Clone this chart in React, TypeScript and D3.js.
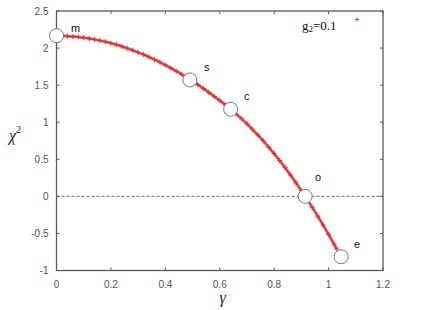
import React from "react";
import * as d3 from "d3";

// gamma values of the red "+" series
const gammaVals = [
  0, 0.02, 0.04, 0.06, 0.08, 0.1, 0.12, 0.14, 0.16, 0.18, 0.2, 0.22, 0.24, 0.26, 0.28, 0.3,
  0.32, 0.34, 0.36, 0.38, 0.4, 0.42, 0.44, 0.46, 0.48, 0.5, 0.52, 0.54, 0.56, 0.58, 0.6,
  0.62, 0.64, 0.66, 0.68, 0.7, 0.72, 0.74, 0.76, 0.78, 0.8, 0.82, 0.84, 0.86, 0.88, 0.9,
  0.92, 0.94, 0.96, 0.98, 1.0, 1.02, 1.03,
];
// chi^2 values of the series
const chiVals = [
  2.165, 2.164, 2.161, 2.156, 2.149, 2.14, 2.129, 2.116, 2.101, 2.085, 2.066, 2.045, 2.022,
  1.997, 1.971, 1.942, 1.912, 1.88, 1.845, 1.809, 1.771, 1.731, 1.69, 1.646, 1.601, 1.554,
  1.505, 1.454, 1.402, 1.348, 1.292, 1.234, 1.175, 1.113, 1.048, 0.978, 0.905, 0.828,
  0.747, 0.663, 0.575, 0.483, 0.387, 0.288, 0.184, 0.077, -0.033, -0.148, -0.266, -0.388,
  -0.514, -0.644, -0.71,
];

// special points (open circles)
const pointNames = ["m", "s", "c", "o", "e"];
const pointGamma = [0, 0.49, 0.64, 0.914, 1.046];
const pointChi = [2.167, 1.57, 1.175, 0, -0.815];

const xTicks = [0, 0.2, 0.4, 0.6, 0.8, 1, 1.2];
const yTicks = [-1, -0.5, 0, 0.5, 1, 1.5, 2, 2.5];

const W = 425;
const H = 310;
const margin = { left: 56.5, top: 11, right: 42, bottom: 39.5 };

export default function App() {
  const x = d3.scaleLinear().domain([0, 1.2]).range([margin.left, W - margin.right]);
  const y = d3.scaleLinear().domain([-1, 2.5]).range([H - margin.bottom, margin.top]);

  const series = gammaVals.map((g, i) => [g, chiVals[i]] as [number, number]);
  const line = d3
    .line<[number, number]>()
    .x((d) => x(d[0]))
    .y((d) => y(d[1]))
    .curve(d3.curveMonotoneX);

  const x0 = x(0), x1 = x(1.2), y0 = y(-1), y1 = y(2.5);
  const axisColor = "#5a5a5a";
  const tickFont = "'Liberation Sans', Arial, sans-serif";
  const serif = "'Liberation Serif', 'Times New Roman', serif";

  // label offsets relative to each circle
  const labelOffset: Record<string, [number, number]> = {
    m: [19, -8],
    s: [17, -13],
    c: [16, -13],
    o: [13, -19],
    e: [16, -13],
  };

  const plus = (cx: number, cy: number, s: number) =>
    `M${cx - s},${cy}H${cx + s}M${cx},${cy - s}V${cy + s}`;

  return (
    <svg
      width={W}
      height={H}
      style={{ position: "absolute", left: 0, top: 0, background: "#fff" }}
    >
      {/* zero line */}
      <line
        x1={x0}
        x2={x1}
        y1={y(0)}
        y2={y(0)}
        stroke="#666"
        strokeWidth={1}
        strokeDasharray="3,2"
      />

      {/* series */}
      <path d={line(series) || ""} fill="none" stroke="#e8383c" strokeWidth={3.2} opacity={0.55} />
      <path d={line(series) || ""} fill="none" stroke="#e3262b" strokeWidth={1.8} opacity={0.9} />
      <path
        d={series.map((d) => plus(x(d[0]), y(d[1]), 2.5)).join("")}
        stroke="#d9363a"
        strokeWidth={1}
        fill="none"
      />

      {/* frame */}
      <rect x={x0} y={y1} width={x1 - x0} height={y0 - y1} fill="none" stroke={axisColor} strokeWidth={1.3} />

      {/* x ticks (mirrored) */}
      {xTicks.map((t) => (
        <g key={"xt" + t}>
          <line x1={x(t)} x2={x(t)} y1={y0} y2={y0 - 3} stroke={axisColor} />
          <line x1={x(t)} x2={x(t)} y1={y1} y2={y1 + 3} stroke={axisColor} />
          <text
            x={x(t)}
            y={y0 + 17}
            textAnchor="middle"
            fontFamily={tickFont}
            fontSize={10}
            fill="#555"
          >
            {t}
          </text>
        </g>
      ))}

      {/* y ticks (mirrored) */}
      {yTicks.map((t) => (
        <g key={"yt" + t}>
          <line x1={x0} x2={x0 + 3} y1={y(t)} y2={y(t)} stroke={axisColor} />
          <line x1={x1} x2={x1 - 3} y1={y(t)} y2={y(t)} stroke={axisColor} />
          <text
            x={x0 - 8}
            y={y(t)}
            dy="0.35em"
            textAnchor="end"
            fontFamily={tickFont}
            fontSize={10}
            fill="#555"
          >
            {t}
          </text>
        </g>
      ))}

      {/* special points */}
      {pointNames.map((n, i) => {
        const cx = x(pointGamma[i]);
        const cy = y(pointChi[i]);
        const [dx, dy] = labelOffset[n];
        return (
          <g key={n}>
            <circle cx={cx} cy={cy} r={7} fill="#fff" stroke="#777" strokeWidth={1} />
            <text
              x={cx + dx}
              y={cy + dy}
              dy="0.35em"
              textAnchor="middle"
              fontFamily={tickFont}
              fontSize={11}
              fill="#111"
            >
              {n}
            </text>
          </g>
        );
      })}

      {/* legend */}
      <text x={302} y={30} fontFamily={serif} fontSize={13} fill="#111">
        g<tspan fontSize={9} dy={2}>2</tspan>
        <tspan dy={-2}>=0.1</tspan>
      </text>
      <path d={plus(357, 19.5, 2)} stroke="#d9363a" strokeWidth={1} />

      {/* axis titles */}
      <text x={9} y={141} fontFamily={serif} fontStyle="italic" fontSize={16} fill="#222">
        χ<tspan fontStyle="normal" fontSize={10} dy={-8}>2</tspan>
      </text>
      <text
        x={(x0 + x1) / 2 + 3}
        y={303}
        textAnchor="middle"
        fontFamily={serif}
        fontStyle="italic"
        fontSize={16}
        fill="#222"
      >
        γ
      </text>
    </svg>
  );
}
